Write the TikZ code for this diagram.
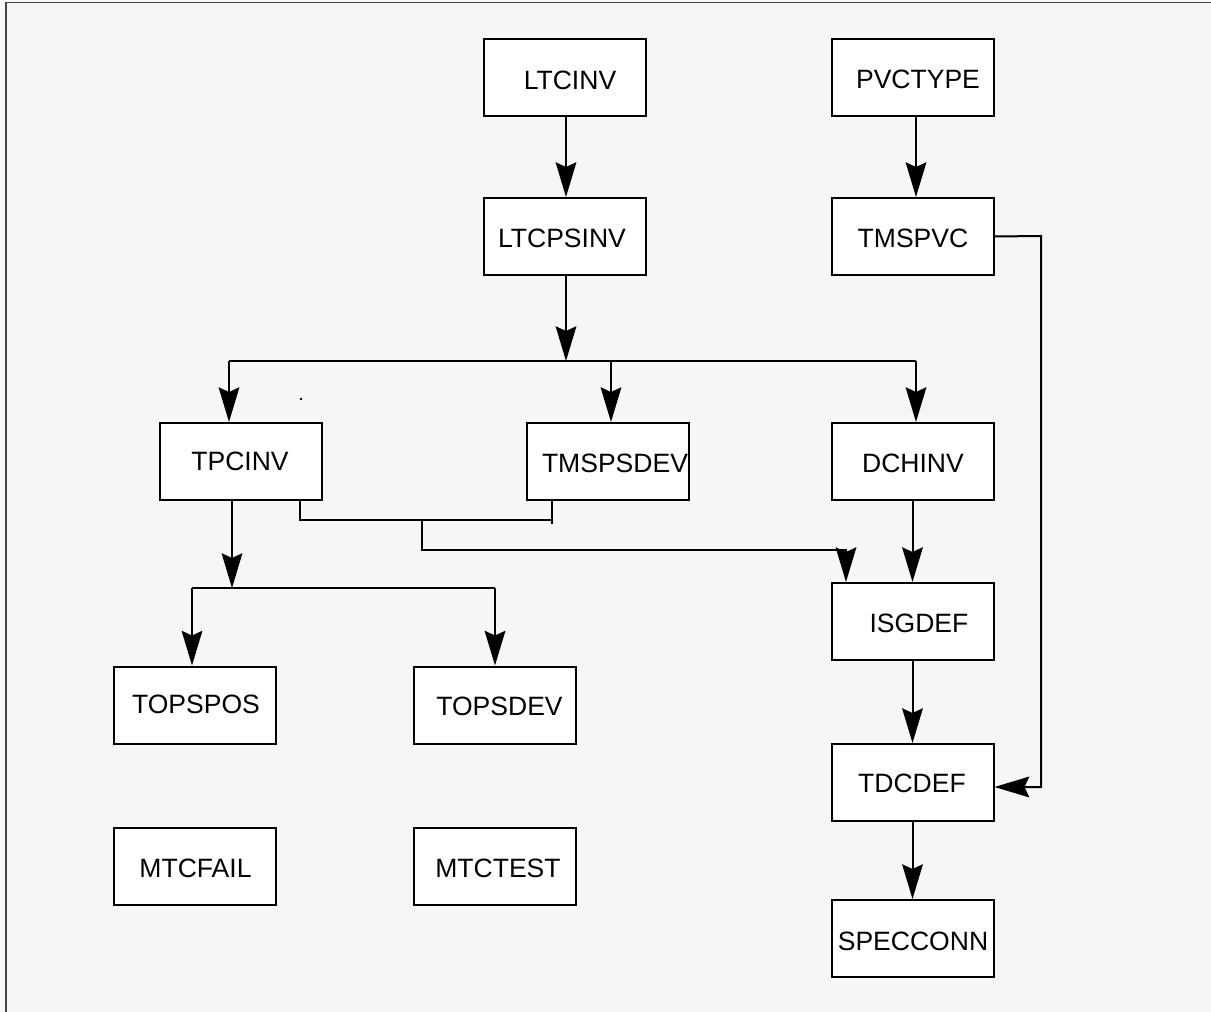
\documentclass[tikz,border=0pt]{standalone}
\usepackage{fontspec}
\setmainfont{Liberation Sans}
\usetikzlibrary{arrows.meta}
\definecolor{bgc}{HTML}{F6F6F6}
\definecolor{framec}{HTML}{444444}
\begin{document}
\begin{tikzpicture}[x=0.75pt,y=-0.75pt,
  box/.style={draw=black,line width=1.5pt,fill=white,minimum width=121.5pt,minimum height=57.75pt,inner sep=0pt},
  lbl/.style={inner sep=0pt,font=\fontsize{19.9}{24}\selectfont},
  conn/.style={line width=1.5pt,draw=black},
  arr/.style={conn,-{Stealth[length=26pt,width=15.5pt,inset=3.5pt]}}]
\fill[bgc] (0,0) rectangle (1211,1012);
\useasboundingbox (0,0) rectangle (1211,1012);
\draw[framec,line width=1pt] (6,1012) -- (6,2.5) -- (1211,2.5);
% boxes
\node[box] (ltcinv) at (565,77.5) {};
\node[box] (pvctype) at (912.5,77.5) {};
\node[box] (ltcpsinv) at (565,236.5) {};
\node[box] (tmspvc) at (912.5,236.5) {};
\node[box] (tpcinv) at (241,461.5) {};
\node[box] (tmspsdev) at (608,461.5) {};
\node[box] (dchinv) at (912.5,461.5) {};
\node[box] (isgdef) at (912.5,621.5) {};
\node[box] (topspos) at (195,705) {};
\node[box] (topsdev) at (495,705) {};
\node[box] (tdcdef) at (912.5,782.5) {};
\node[box] (mtcfail) at (195,866.5) {};
\node[box] (mtctest) at (495,866.5) {};
\node[box] (specconn) at (912.5,938.5) {};
% labels
\node[lbl] (ltcinvT) at (570,80.5) {LTCINV};
\node[lbl] (pvctypeT) at (918,79.5) {PVCTYPE};
\node[lbl] (ltcpsinvT) at (562,238.5) {LTCPSINV};
\node[lbl] (tmspvcT) at (913,238.5) {TMSPVC};
\node[lbl] (tpcinvT) at (240,461.5) {TPCINV};
\node[lbl] (tmspsdevT) at (615,463.5) {TMSPSDEV};
\node[lbl] (dchinvT) at (913,463.5) {DCHINV};
\node[lbl] (isgdefT) at (919,623.5) {ISGDEF};
\node[lbl] (topsposT) at (196,704.5) {TOPSPOS};
\node[lbl] (topsdevT) at (499.5,706) {TOPSDEV};
\node[lbl] (tdcdefT) at (912,783.5) {TDCDEF};
\node[lbl] (mtcfailT) at (195.5,868) {MTCFAIL};
\node[lbl] (mtctestT) at (498,868) {MTCTEST};
\node[lbl] (specconnT) at (913,941.5) {SPECCONN};
% stray dot
\fill (301,399) circle (1pt);
% junction coordinates
\coordinate (j1) at (566,361);
\coordinate (j1L) at (229,361);
\coordinate (j1M) at (611,361);
\coordinate (j1R) at (916,361);
\coordinate (j2) at (232,588);
\coordinate (j2L) at (192,588);
\coordinate (j2R) at (495,588);
\coordinate (j3L) at (300,520);
\coordinate (j3R) at (552,520);
\coordinate (j3M) at (422,520);
\coordinate (j3D) at (422,550);
\coordinate (j3E) at (846,550);
\coordinate (k1) at (1041,236);
\coordinate (k2) at (1041,787);
% connectors
\draw[arr] (ltcinv.south -| j1) -- (ltcpsinv.north -| j1);
\draw[arr] (pvctype.south -| j1R) -- (tmspvc.north -| j1R);
\draw[arr] (ltcpsinv.south -| j1) -- (j1);
\draw[conn] (j1L) -- (j1R);
\draw[arr] (j1L) -- (j1L |- tpcinv.north);
\draw[arr] (j1M) -- (j1M |- tmspsdev.north);
\draw[arr] (j1R) -- (j1R |- dchinv.north);
\draw[conn] (tpcinv.south -| j3L) -- (j3L) -- (j3R) -- (tmspsdev.south -| j3R);
\draw[conn] (j3R) -- ++(0,4);
\draw[arr] (j3M) -- (j3D) -- (j3E) -- (j3E |- isgdef.north);
\draw[arr] (tpcinv.south -| j2) -- (j2);
\draw[conn] (j2L) -- (j2R);
\draw[arr] (j2L) -- (j2L |- topspos.north);
\draw[arr] (j2R) -- (j2R |- topsdev.north);
\draw[arr] (dchinv.south) -- (isgdef.north);
\draw[arr] (isgdef.south) -- (tdcdef.north);
\draw[arr] (tdcdef.south) -- (specconn.north);
\draw[arr] (tmspvc.east) -- (k1) -- (k2) -- (k2 -| tdcdef.east);
\end{tikzpicture}
\end{document}
